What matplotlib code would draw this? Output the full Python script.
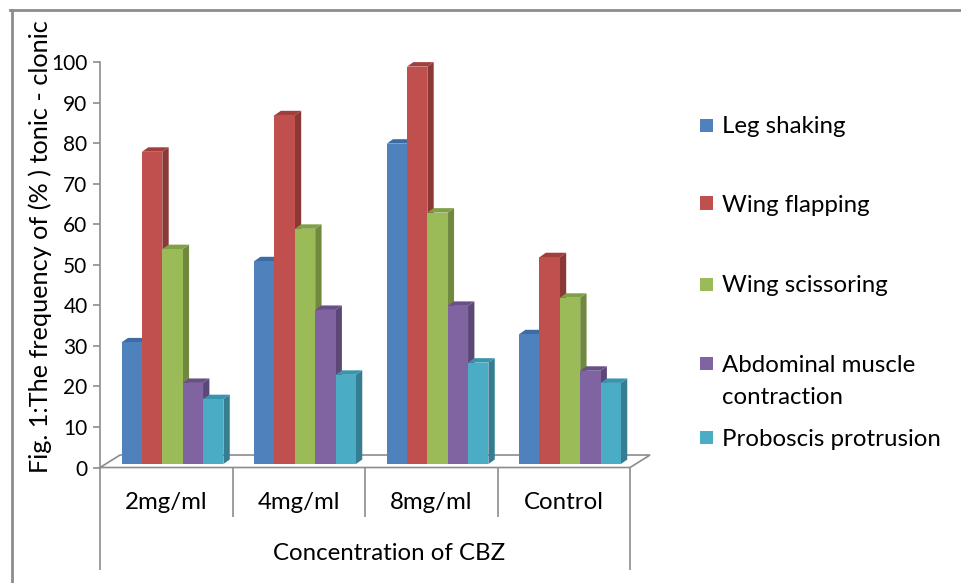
"""Barras 3D (estilo Excel) da frequencia de convulsoes tonico-clonicas por concentracao de CBZ."""

import matplotlib
matplotlib.use('Agg')
import matplotlib.pyplot as plt
from matplotlib.patches import Polygon, Rectangle
from matplotlib.lines import Line2D

categories = ['2mg/ml', '4mg/ml', '8mg/ml', 'Control']
series_names = ['Leg shaking', 'Wing flapping', 'Wing scissoring',
                'Abdominal muscle\ncontraction', 'Proboscis protrusion']
leg_shaking = [30, 50, 79, 32]
wing_flapping = [77, 86, 98, 51]
wing_scissoring = [53, 58, 62, 41]
abdominal_contraction = [20, 38, 39, 23]
proboscis_protrusion = [16, 22, 25, 20]
y_ticks = [0, 10, 20, 30, 40, 50, 60, 70, 80, 90, 100]

y_label = 'Fig. 1:The frequency of (% ) tonic - clonic'
x_label = 'Concentration of CBZ'

# cores Excel 2007: face frontal, lateral e topo
FRONT = ['#4F81BD', '#C0504D', '#9BBB59', '#8064A2', '#4BACC6']
SIDE = ['#385D8A', '#8C3836', '#71893F', '#5C4776', '#357D91']
TOP = ['#3E6BA3', '#A23F3C', '#81A046', '#684F88', '#3994AD']
GRID = '#8C8C8C'
FONT = 'Lato'
TXT = 17.3

# geometria (unidades de dados)
W, OFFSET = 0.1536, 0.163
DX, DY = 0.048, 1.1          # profundidade das barras
FDX, FDY = 0.151, 3.08       # profundidade do piso
BASE = 0.86


def _draw_bar(ax, x, v, k, z):
    top = BASE + v
    ax.add_patch(Polygon([(x + W, BASE), (x + W + DX, BASE + DY),
                          (x + W + DX, top + DY), (x + W, top)],
                         closed=True, fc=SIDE[k], ec='none', zorder=z))
    ax.add_patch(Polygon([(x, top), (x + DX, top + DY),
                          (x + W + DX, top + DY), (x + W, top)],
                         closed=True, fc=TOP[k], ec='none', zorder=z))
    ax.bar(x, v, width=W, bottom=BASE, align='edge', color=FRONT[k],
           edgecolor='none', zorder=z + 0.5)


def main():
    plt.rcParams['font.family'] = [FONT, 'DejaVu Sans']
    fig = plt.figure(figsize=(9.61, 5.83), dpi=100)
    ax = fig.add_axes([0.1041, 0.1981, 0.5515, 0.6956])
    ax.set_xlim(0, len(categories))
    ax.set_ylim(0, 100)

    series = [leg_shaking, wing_flapping, wing_scissoring,
              abdominal_contraction, proboscis_protrusion]

    # piso
    n = len(categories)
    ax.add_patch(Polygon([(0, 0), (n, 0), (n + FDX, FDY), (FDX, FDY)],
                         closed=True, fc='white', ec=GRID, lw=1.2,
                         clip_on=False, zorder=1))

    for i in range(n):
        for k, vals in enumerate(series):
            _draw_bar(ax, i + OFFSET + k * W, vals[i], k, 2 + k)

    for s in ['top', 'right', 'bottom']:
        ax.spines[s].set_visible(False)
    ax.spines['left'].set_color(GRID)
    ax.spines['left'].set_linewidth(1.2)
    ax.set_yticks(y_ticks)
    ax.tick_params(axis='y', length=5, width=1.2, color=GRID,
                   labelsize=15, pad=4)
    ax.set_xticks([])

    # eixo de categorias em dois niveis
    tr = ax.get_xaxis_transform()
    ax.vlines(range(1, n), -0.122, 0, color=GRID, lw=1.2,
              transform=tr, clip_on=False)
    ax.vlines([0, n], -0.253, 0, color=GRID, lw=1.2,
              transform=tr, clip_on=False)
    for i, cat in enumerate(categories):
        ax.text(i + 0.5, -0.0875, cat, transform=tr, ha='center',
                va='center', fontsize=TXT)
    ax.text(2.18, -0.211, x_label, transform=tr, ha='center',
            va='center', fontsize=TXT)

    fig.text(40 / 961, 1 - 246.5 / 583, y_label, rotation=90,
             ha='center', va='center', fontsize=18.2)

    # legenda manual (quadrado alinhado com a primeira linha)
    leg_y = [125, 203, 284, 363, 437]
    for name, color, yp in zip(series_names, FRONT, leg_y):
        yf = 1 - yp / 583
        fig.patches.append(Rectangle((700 / 961, yf - 6.5 / 583),
                                     13 / 961, 13 / 583, fc=color,
                                     ec='none', transform=fig.transFigure))
        for j, line in enumerate(name.split('\n')):
            fig.text(722 / 961, 1 - (yp + 8.5 + j * 32) / 583, line,
                     ha='left', va='baseline', fontsize=TXT)

    # moldura
    fig.add_artist(Line2D([10 / 961, 1], [1 - 10 / 583] * 2,
                          color=GRID, lw=2, transform=fig.transFigure))
    fig.add_artist(Line2D([12 / 961] * 2, [0, 1 - 10 / 583],
                          color=GRID, lw=2, transform=fig.transFigure))

    fig.savefig('out.png', dpi=100)
    plt.close(fig)


if __name__ == "__main__":
    main()
